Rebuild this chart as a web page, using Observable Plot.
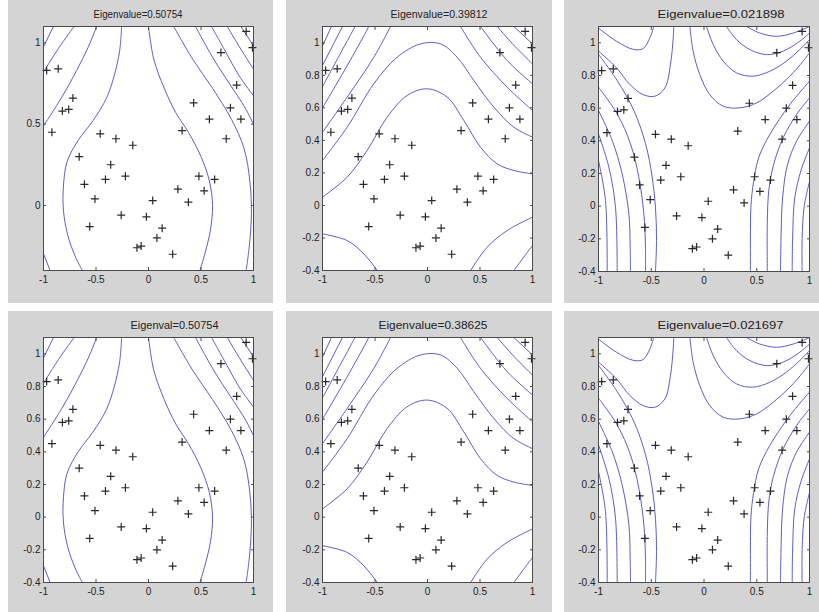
<!DOCTYPE html>
<html><head><meta charset="utf-8">
<script src="https://cdn.jsdelivr.net/npm/d3@7"></script>
<script src="https://cdn.jsdelivr.net/npm/@observablehq/plot@0.6"></script>
<style>
body{margin:0;background:#fff;}
#fig{position:relative;width:819px;height:612px;overflow:hidden;background:#fff;}
#fig svg{position:absolute;}
</style></head><body><div id="fig"></div>
<script>
// ---- data ----
const titles = ["Eigenvalue=0.50754","Eigenvalue=0.39812","Eigenvalue=0.021898",
                "Eigenval=0.50754","Eigenvalue=0.38625","Eigenvalue=0.021697"];
const xTicks = [-1,-0.5,0,0.5,1];
const yTicksCoarse = [0,0.5,1];
const yTicksFine = [-0.4,-0.2,0,0.2,0.4,0.6,0.8,1];

const pointsX = [-0.97,-0.86,-0.92,-0.82,-0.76,-0.72,-0.66,-0.61,-0.51,-0.56,-0.46,-0.36,-0.41,-0.31,-0.22,-0.15,-0.26,-0.11,-0.07,-0.02,0.04,0.08,0.13,0.23,0.28,0.38,0.32,0.43,0.48,0.53,0.63,0.58,0.74,0.78,0.84,0.88,0.69,0.93,0.99];
const pointsY = [0.83,0.84,0.45,0.58,0.59,0.66,0.30,0.13,0.04,-0.13,0.44,0.25,0.16,0.41,0.18,0.37,-0.06,-0.26,-0.25,-0.07,0.03,-0.20,-0.14,-0.30,0.10,0.02,0.46,0.63,0.18,0.09,0.16,0.53,0.41,0.60,0.74,0.53,0.94,1.07,0.97];

// contour lines of the first component (panels 1 and 4)
const contoursFirst = [
 [[-1,0.975],[-0.905,1.1]],
 [[-1,0.82],[-0.858,0.965],[-0.709,1.1]],
 [[-1,0.489],[-0.826,0.665],[-0.684,0.83],[-0.573,0.975],[-0.494,1.1]],
 [[-0.256,1.1],[-0.275,0.95],[-0.33,0.79],[-0.4,0.66],[-0.53,0.52],[-0.67,0.4],[-0.775,0.27],[-0.81,0.12],[-0.81,-0.03],[-0.77,-0.18],[-0.7,-0.31],[-0.63,-0.4]],
 [[-1,-0.298],[-0.937,-0.4]],
 [[0,1.1],[0.05,0.9],[0.15,0.72],[0.26,0.57],[0.38,0.45],[0.5,0.3],[0.58,0.15],[0.61,0],[0.59,-0.15],[0.54,-0.29],[0.49,-0.4]],
 [[0.24,1.1],[0.42,0.9],[0.61,0.72],[0.79,0.53],[0.91,0.35],[0.965,0.15],[0.98,-0.05],[0.96,-0.25],[0.93,-0.4]],
 [[0.448,1.1],[0.62,0.9],[0.78,0.74],[0.92,0.6],[1,0.5]],
 [[0.6,1.1],[0.73,0.95],[0.86,0.8],[1,0.674]],
 [[0.75,1.1],[0.88,0.96],[1,0.838]],
 [[0.88,1.1],[1,0.981]]
];
// second component (panels 2 and 5)
const contoursSecond = [
 [[-1,0.051],[-0.765,0.174],[-0.575,0.338],[-0.384,0.543],[-0.194,0.676],[-0.003,0.717],[0.187,0.666],[0.346,0.522],[0.505,0.358],[0.663,0.256],[0.822,0.215],[1,0.194]],
 [[-1,0.276],[-0.765,0.481],[-0.511,0.748],[-0.289,0.911],[-0.067,0.993],[0.124,0.993],[0.283,0.911],[0.441,0.768],[0.632,0.604],[0.822,0.481],[1,0.42]],
 [[-1,0.45],[-0.765,0.666],[-0.511,0.911],[-0.352,1.1]],
 [[-1,0.6],[-0.8,0.82],[-0.6,1.05],[-0.56,1.1]],
 [[-1,0.73],[-0.85,0.91],[-0.69,1.1]],
 [[-1,0.86],[-0.81,1.1]],
 [[-1,0.98],[-0.915,1.1]],
 [[0.314,1.1],[0.505,0.911],[0.759,0.727],[1,0.584]],
 [[0.505,1.1],[0.759,0.891],[1,0.748]],
 [[0.663,1.1],[0.83,0.98],[1,0.87]],
 [[0.822,1.1],[1,0.993]],
 [[-1,-0.175],[-0.765,-0.216],[-0.606,-0.298],[-0.479,-0.4]],
 [[0.41,-0.4],[0.568,-0.257],[0.759,-0.154],[1,-0.072]],
 [[0.822,-0.4],[0.917,-0.318],[1,-0.246]]
];
// third component (panels 3 and 6)
const contoursThird = [
 [[-1,1.09],[-0.83,1.01],[-0.67,0.96],[-0.577,0.965],[-0.513,1.03],[-0.476,1.1]],
 [[-1,0.95],[-0.83,0.847],[-0.703,0.745],[-0.577,0.683],[-0.466,0.673],[-0.371,0.724],[-0.318,0.867],[-0.292,1.03],[-0.286,1.1]],
 [[-0.134,1.1],[-0.103,0.949],[-0.04,0.806],[0.055,0.683],[0.182,0.612],[0.34,0.602],[0.498,0.632],[0.656,0.704],[0.814,0.796],[0.94,0.888],[1,0.939]],
 [[0.024,1.1],[0.087,0.99],[0.182,0.888],[0.308,0.816],[0.466,0.796],[0.624,0.826],[0.782,0.888],[0.908,0.959],[1,1.02]],
 [[0.213,1.1],[0.308,1.02],[0.434,0.959],[0.592,0.928],[0.75,0.949],[0.908,1.01],[1,1.06]],
 [[0.403,1.1],[0.529,1.06],[0.687,1.04],[0.845,1.06],[1,1.1]],
 [[-1,0.93],[-0.823,0.769],[-0.665,0.586],[-0.554,0.382],[-0.491,0.178],[-0.46,-0.006],[-0.45,-0.21],[-0.46,-0.4]],
 [[-1,0.729],[-0.823,0.565],[-0.697,0.382],[-0.618,0.178],[-0.57,-0.047],[-0.555,-0.25],[-0.554,-0.4]],
 [[-1,0.586],[-0.87,0.402],[-0.776,0.198],[-0.712,-0.047],[-0.7,-0.25],[-0.697,-0.4]],
 [[-1,0.443],[-0.902,0.239],[-0.839,-0.006],[-0.823,-0.4]],
 [[-1,0.28],[-0.934,0.035],[-0.918,-0.4]],
 [[1,0.765],[0.814,0.622],[0.624,0.439],[0.52,0.3],[0.47,0.15],[0.445,0],[0.44,-0.2],[0.44,-0.4]],
 [[1,0.663],[0.877,0.561],[0.75,0.418],[0.66,0.255],[0.615,0.1],[0.6,-0.1],[0.6,-0.4]],
 [[1,0.52],[0.877,0.398],[0.79,0.25],[0.745,0.05],[0.73,-0.2],[0.725,-0.4]],
 [[1,0.357],[0.92,0.22],[0.86,0.05],[0.84,-0.2],[0.836,-0.4]],
 [[1,0.15],[0.95,0],[0.93,-0.2],[0.93,-0.4]]
];

// ---- layout ----
const panels = [
 {left:8,   top:0,   w:265, h:303, ml:35, mr:20, mt:26, mb:33, contours:contoursFirst,  yTicks:yTicksCoarse, tdx:50, tw:89},
 {left:286, top:0,   w:266, h:303, ml:36, mr:20, mt:26, mb:33, contours:contoursSecond, yTicks:yTicksFine,   tdx:68, tw:97},
 {left:564, top:0,   w:255, h:303, ml:34, mr:10, mt:26, mb:32, contours:contoursThird,  yTicks:yTicksFine,   tdx:59, tw:127},
 {left:8,   top:311, w:265, h:301, ml:35, mr:20, mt:26, mb:30, contours:contoursFirst,  yTicks:yTicksFine,   tdx:87, tw:88},
 {left:286, top:311, w:266, h:301, ml:36, mr:20, mt:26, mb:30, contours:contoursSecond, yTicks:yTicksFine,   tdx:56, tw:109},
 {left:564, top:311, w:255, h:301, ml:34, mr:10, mt:26, mb:30, contours:contoursThird,  yTicks:yTicksFine,   tdx:59, tw:126}
];

const points = pointsX.map((x, i) => ({x, y: pointsY[i]}));
const plusSymbol = {draw(ctx, size) {
  const r = Math.sqrt(size / Math.PI);
  ctx.moveTo(-r, 0); ctx.lineTo(r, 0); ctx.moveTo(0, -r); ctx.lineTo(0, r);
}};
const fmt = d => String(d);
const blank = () => "";
const lineColor = "#5c5cd0";
const fig = document.getElementById("fig");

panels.forEach((p, k) => {
  const rows = [];
  p.contours.forEach((c, id) => c.forEach(([x, y]) => rows.push({x, y, id})));
  const svg = Plot.plot({
    width: p.w, height: p.h,
    marginLeft: p.ml, marginRight: p.mr, marginTop: p.mt, marginBottom: p.mb,
    x: {domain: [-1, 1]},
    y: {domain: [-0.4, 1.1]},
    style: {background: "#d4d4d4", fontFamily: "'Liberation Sans', Arial, sans-serif", color: "#222"},
    marks: [
      Plot.frame({fill: "white"}),
      Plot.line(rows, {x: "x", y: "y", z: "id", curve: "catmull-rom", stroke: lineColor, strokeWidth: 1, clip: true}),
      Plot.dot(points, {x: "x", y: "y", symbol: plusSymbol, r: 4, stroke: "#2a2a2a", strokeWidth: 1.2, fill: "none"}),
      Plot.frame({stroke: "#4a4a4a", strokeWidth: 1}),
      Plot.axisX(xTicks, {anchor: "bottom", tickSize: 0, tickPadding: 5, tickFormat: fmt, fontSize: 10, label: null}),
      Plot.axisX(xTicks, {anchor: "bottom", tickSize: -3, tickFormat: blank, label: null, stroke: "#4a4a4a"}),
      Plot.axisX(xTicks, {anchor: "top", tickSize: -3, tickFormat: blank, label: null, stroke: "#4a4a4a"}),
      Plot.axisY(p.yTicks, {anchor: "left", tickSize: 0, tickPadding: 3, tickFormat: fmt, fontSize: 10, label: null}),
      Plot.axisY(p.yTicks, {anchor: "left", tickSize: -3, tickFormat: blank, label: null, stroke: "#4a4a4a"}),
      Plot.axisY(p.yTicks, {anchor: "right", tickSize: -3, tickFormat: blank, label: null, stroke: "#4a4a4a"}),
      Plot.text([titles[k]], {frameAnchor: "top-left", text: d => d, dx: p.tdx, dy: -12, textAnchor: "start", lineAnchor: "middle", fontSize: 10, fill: "#222"})
    ]
  });
  svg.style.left = p.left + "px";
  svg.style.top = p.top + "px";
  svg.querySelectorAll('g[aria-label="text"] text').forEach(t => {
    t.setAttribute("textLength", p.tw);
    t.setAttribute("lengthAdjust", "spacingAndGlyphs");
  });
  fig.appendChild(svg);
});
</script></body></html>
